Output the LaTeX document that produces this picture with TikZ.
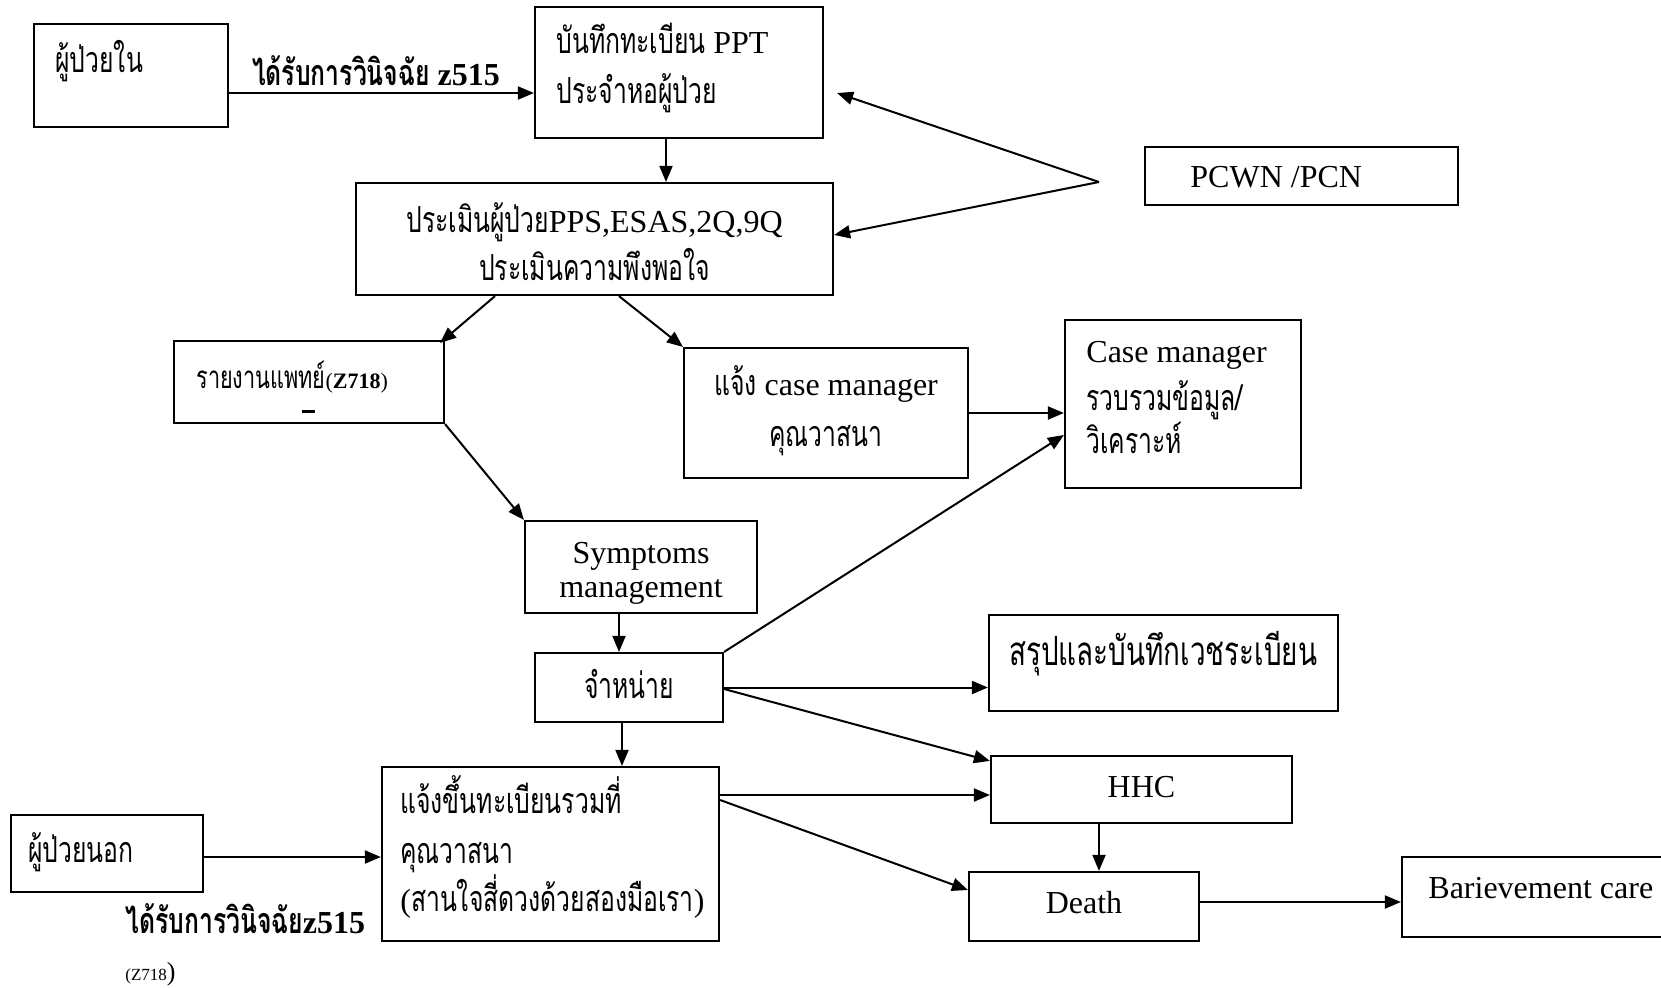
\documentclass[tikz,border=0pt]{standalone}
\usepackage{fontspec}
\setmainfont{Liberation Serif}
\newfontfamily\thai[Script=Thai,Scale=1.12,FakeStretch=0.69]{Loma}
\newcommand{\tx}[1]{{\thai #1}}
\usetikzlibrary{calc,arrows.meta}

\begin{document}
\begin{tikzpicture}[x=0.5pt,y=-0.5pt]
    \tikzstyle{every node}=[inner sep=0pt, font=\fontsize{16pt}{19pt}\selectfont]
    \tikzstyle{box}=[draw, line width=1.1pt, rectangle]
    \tikzstyle{arr}=[line width=1pt, -{Triangle[length=8pt,width=6.5pt]}]
    \useasboundingbox (0,0) rectangle (1661,987);

    % boxes
    \node[box, minimum width=97pt, minimum height=51.5pt] (1) at (131,75.5) {};
    \node[box, minimum width=144pt, minimum height=65.5pt] (2) at (679,72.5) {};
    \node[box, minimum width=238.5pt, minimum height=56pt] (3) at (594.5,239) {};
    \node[box, minimum width=156.5pt, minimum height=29pt] (4) at (1301.5,176) {};
    \node[box, minimum width=135pt, minimum height=41pt] (5) at (309,382) {};
    \node[box, minimum width=142pt, minimum height=65pt] (6) at (826,413) {};
    \node[box, minimum width=118pt, minimum height=84pt] (7) at (1183,404) {};
    \node[box, minimum width=116pt, minimum height=46pt] (8) at (641,567) {};
    \node[box, minimum width=94pt, minimum height=34.5pt] (9) at (629,687.5) {};
    \node[box, minimum width=174.5pt, minimum height=48pt] (10) at (1163.5,663) {};
    \node[box, minimum width=150.5pt, minimum height=33.5pt] (11) at (1141.5,789.5) {};
    \node[box, minimum width=168.5pt, minimum height=87pt] (12) at (550.5,854) {};
    \node[box, minimum width=115pt, minimum height=34.5pt] (13) at (1084,906.5) {};
    \node[box, minimum width=134pt, minimum height=40pt] (14) at (1536,897) {};
    \node[box, minimum width=96pt, minimum height=38.5pt] (15) at (107,853.5) {};

    % texts
    \node[anchor=base west] (1a) at (55,72) {\tx{ผู้ป่วยใน}};
    \node[anchor=base] (1l) at (376,85) {\bfseries\tx{ได้รับการวินิจฉัย} z515};
    \node[anchor=base west] (2a) at (556,53) {\tx{บันทึกทะเบียน} PPT};
    \node[anchor=base west] (2b) at (556,103) {\tx{ประจำหอผู้ป่วย}};
    \node[anchor=base] (3a) at (594.5,232) {\tx{ประเมินผู้ป่วย}PPS,ESAS,2Q,9Q};
    \node[anchor=base] (3b) at (594.5,280) {\tx{ประเมินความพึงพอใจ}};
    \node[anchor=base west] (4a) at (1190,187) {PCWN /PCN};
    \node[anchor=base west, font=\fontsize{14pt}{17pt}\selectfont] (5a) at (196,388) {\tx{รายงานแพทย์}{\fontsize{11pt}{13pt}\selectfont(\textbf{Z718})}};
    \node (5m) at (308,411) {\rule{6.5pt}{1.5pt}};
    \node[anchor=base] (6a) at (826,395) {\tx{แจ้ง} case manager};
    \node[anchor=base] (6b) at (826,446) {\tx{คุณวาสนา}};
    \node[anchor=base west] (7a) at (1086,362) {Case manager};
    \node[anchor=base west] (7b) at (1086,410) {\tx{รวบรวมข้อมูล/}};
    \node[anchor=base west] (7c) at (1086,453) {\tx{วิเคราะห์}};
    \node[anchor=base] (8a) at (641,563) {Symptoms};
    \node[anchor=base] (8b) at (641,597) {management};
    \node[anchor=base] (9a) at (629,698) {\tx{จำหน่าย}};
    \node[anchor=base west, font=\fontsize{18pt}{21pt}\selectfont] (10a) at (1009,665) {\tx{สรุปและบันทึกเวชระเบียน}};
    \node[anchor=base] (11a) at (1141.5,797) {HHC};
    \node[anchor=base west] (12a) at (400,813) {\tx{แจ้งขึ้นทะเบียนรวมที่}};
    \node[anchor=base west] (12b) at (400,863) {\tx{คุณวาสนา}};
    \node[anchor=base west] (12c) at (400,911) {(\tx{สานใจสี่ดวงด้วยสองมือเรา})};
    \node[anchor=base] (13a) at (1084,913) {Death};
    \node[anchor=base west] (14a) at (1428,898) {Barievement care};
    \node[anchor=base west] (15a) at (28,862) {\tx{ผู้ป่วยนอก}};
    \node[anchor=base west] (15l) at (125,933) {\bfseries\tx{ได้รับการวินิจฉัย}z515};
    \node[anchor=base west] (15z) at (125,980) {{\fontsize{8.5pt}{11pt}\selectfont (Z718}{\fontsize{13pt}{15pt}\selectfont )}};

    % connectors
    \coordinate (jn) at (1099,182);
    \draw[arr] ($(1.east)+(0,17.5)$) -- ($(2.west)+(0,20.5)$);
    \draw[arr] ($(2.south)+(-13,0)$) coordinate (p) -- (p |- 3.north);
    \draw[arr] (jn) -- ($(2.east)+(13,20.5)$);
    \draw[arr] (jn) -- ($(3.east)+(0,-4)$);
    \draw[arr] ($(3.south)+(-99.5,0)$) -- ($(5.north east)+(-5,3)$);
    \draw[arr] ($(3.south)+(24.5,0)$) -- (6.north west);
    \draw[arr] (6.east) -- (6.east -| 7.west);
    \draw[arr] (5.south east) -- (8.north west);
    \draw[arr] ($(8.south)+(-22,0)$) coordinate (p) -- (p |- 9.north);
    \draw[arr] (9.north east) -- ($(7.west)+(0,31)$);
    \draw[arr] (9.east) -- (9.east -| 10.west);
    \draw[arr] ($(9.east)+(0,1.5)$) -- ($(11.north west)+(0,6)$);
    \draw[arr] ($(9.south)+(-7,0)$) coordinate (p) -- (p |- 12.north);
    \draw[arr] ($(15.east)+(0,3.5)$) coordinate (p) -- (p -| 12.west);
    \draw[arr] ($(12.east)+(0,-59)$) coordinate (p) -- (p -| 11.west);
    \draw[arr] ($(12.east)+(0,-54)$) -- ($(13.west)+(0,-16.5)$);
    \draw[arr] ($(11.south)+(-42.5,0)$) coordinate (p) -- (p |- 13.north);
    \draw[arr] ($(13.east)+(0,-4.5)$) coordinate (p) -- (p -| 14.west);
\end{tikzpicture}
\end{document}
